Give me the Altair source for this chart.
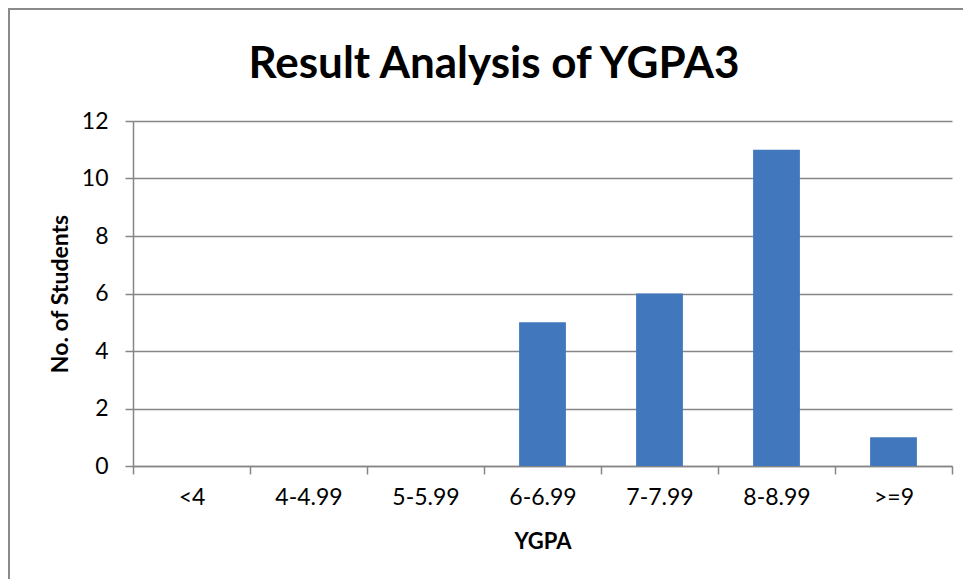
import altair as alt
import pandas as pd

categories = ["<4", "4-4.99", "5-5.99", "6-6.99", "7-7.99", "8-8.99", ">=9"]
students = [0, 0, 0, 5, 6, 11, 1]
chart_title = "Result Analysis of YGPA3"

df = pd.DataFrame({"YGPA": categories, "Students": students})

W, H = 819, 345
FONT = "Lato"
GRID = "#868686"

xscale = alt.Scale(domain=categories, paddingInner=0, paddingOuter=0)

bars = alt.Chart(df).mark_bar(color="#4177BD", width=alt.RelativeBandSize(0.4)).encode(
    x=alt.X("YGPA:N", sort=categories, scale=xscale,
            axis=alt.Axis(title="YGPA", labelAngle=0, ticks=True, tickBand="extent",
                          tickSize=8, tickColor=GRID, tickWidth=1.5,
                          domain=True, domainColor=GRID, domainWidth=1.5,
                          labelFontSize=23, labelColor="#000", labelPadding=12,
                          titleFontSize=22, titleFontWeight="bold", titlePadding=22,
                          labelFont=FONT, titleFont=FONT, titleColor="#000")),
    y=alt.Y("Students:Q", scale=alt.Scale(domain=[0, 12]),
            axis=alt.Axis(title="No. of Students", values=[0, 2, 4, 6, 8, 10, 12],
                          tickSize=8, tickColor=GRID, tickWidth=1.5,
                          domainColor=GRID, domainWidth=1.5,
                          gridColor=GRID, gridWidth=1.5, grid=True,
                          labelFontSize=23, labelColor="#000", labelPadding=17,
                          titleFontSize=23, titleFontWeight="bold", titlePadding=9,
                          labelFont=FONT, titleFont=FONT, titleColor="#000")),
)

border = alt.Chart(df).mark_rect(fill=None, stroke="#8a8a8a", strokeWidth=2).encode(
    x=alt.value(-124), x2=alt.value(900), y=alt.value(-112), y2=alt.value(520),
)
title = alt.Chart(pd.DataFrame({"t": [chart_title]})).mark_text(
    font=FONT, fontSize=44, fontWeight="bold", color="#000", baseline="alphabetic", align="center"
).encode(text="t:N", x=alt.value(361), y=alt.value(-43))

chart = alt.layer(border, bars, title).properties(
    width=W, height=H,
    autosize=alt.AutoSizeParams(type="none"),
    padding={"left": 125, "top": 113, "right": 11, "bottom": 113},
).configure_view(stroke=None).configure_axisX(grid=False)

chart.save("out.html", embed_options={"renderer": "svg", "actions": False})
